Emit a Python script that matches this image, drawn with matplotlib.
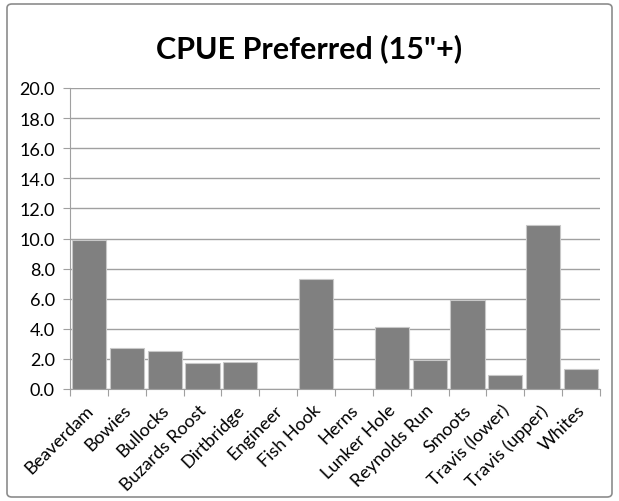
import matplotlib
matplotlib.use("Agg")
import matplotlib.pyplot as plt
import matplotlib.transforms as mtransforms
from matplotlib.patches import FancyBboxPatch
import numpy as np

sites = ['Beaverdam', 'Bowies', 'Bullocks', 'Buzards Roost', 'Dirtbridge',
         'Engineer', 'Fish Hook', 'Herns', 'Lunker Hole', 'Reynolds Run',
         'Smoots', 'Travis (lower)', 'Travis (upper)', 'Whites']
cpue = [9.9, 2.7, 2.5, 1.7, 1.8, 0.0, 7.3, 0.0, 4.1, 1.9, 5.9, 0.9, 10.9, 1.3]
yticks = np.arange(0, 20.1, 2)

plt.rcParams['font.family'] = ['Lato', 'DejaVu Sans']

fig = plt.figure(figsize=(6.19, 5.02), dpi=100)
ax = fig.add_axes([70 / 619, 1 - 390 / 502, 530 / 619, 301 / 502])

# outer chart border
fig.patches.append(FancyBboxPatch((7 / 619, 4 / 502), 605 / 619, 493 / 502,
                                  boxstyle="round,pad=0,rounding_size=0.008",
                                  transform=fig.transFigure, fill=False,
                                  edgecolor='#8c8c8c', linewidth=1.2))

x = np.arange(len(sites))
ax.bar(x, cpue, width=0.9, color='#808080', edgecolor='#c8c8c8', linewidth=0.8, zorder=3)

ax.set_xlim(-0.5, len(sites) - 0.5)
ax.set_ylim(0, 20)
ax.set_yticks(yticks)
ax.set_yticklabels(['%.1f' % v for v in yticks], fontsize=13)
ax.yaxis.grid(True, color='#a0a0a0', linewidth=1)
ax.set_axisbelow(True)

ax.set_xticks(np.arange(-0.5, len(sites), 1))
ax.set_xticklabels([])
ax.set_xticks(x, minor=True)
ax.set_xticklabels(sites, minor=True, rotation=45, ha='right', rotation_mode='anchor', fontsize=13)
ax.tick_params(axis='x', which='minor', length=0, pad=9)
ax.tick_params(axis='x', which='major', length=5, color='#a0a0a0', direction='out')
ax.tick_params(axis='y', length=5, color='#a0a0a0', pad=6)

shift = mtransforms.ScaledTranslation(-4 / 100, 0, fig.dpi_scale_trans)
for lbl in ax.get_xticklabels(minor=True):
    lbl.set_transform(lbl.get_transform() + shift)

for s in ['top', 'right']:
    ax.spines[s].set_visible(False)
for s in ['left', 'bottom']:
    ax.spines[s].set_color('#a0a0a0')

fig.text(0.5, 1 - 49 / 502, 'CPUE Preferred (15"+)', ha='center', va='center',
         fontsize=22, fontweight='bold')

fig.savefig('out.png', dpi=100)
